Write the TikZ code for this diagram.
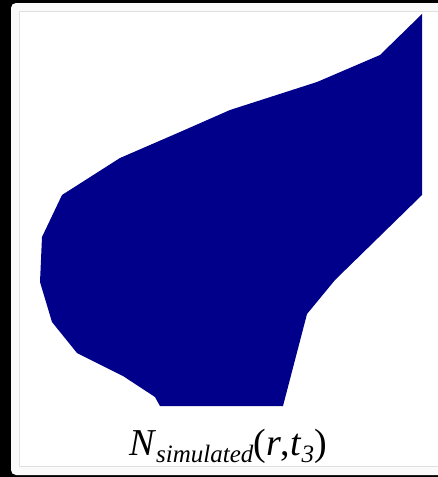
\documentclass[tikz,border=0pt]{standalone}
\usepackage{fontspec}
\setmainfont{Liberation Serif}
\definecolor{plotblue}{RGB}{0,0,139}
\newcommand{\subtxt}[1]{\raisebox{-7pt}{\fontsize{25}{25}\selectfont\textit{#1}}}
\begin{document}
\begin{tikzpicture}[x=1pt,y=-1pt]
\useasboundingbox (0,0) rectangle (438,477);
\fill[black] (0,0) rectangle (438,477);
\fill[black!2,rounded corners=5pt] (11,3) rectangle (460,475);
\fill[white] (19,11) rectangle (450,466);
\draw[black!12] (450,11) -- (19,11) -- (19,466) -- (450,466);
\fill[plotblue] (422,14) -- (422,195) -- (335,280) -- (307,314) -- (283,406) -- (160,406) -- (155,397)
  -- (123,376) -- (77,353) -- (52,322) -- (40,282) -- (42,237) -- (62,195) -- (120,158) -- (180,132)
  -- (230,110) -- (317,82) -- (380,55) -- cycle;
\node[anchor=base,inner sep=0pt,font=\fontsize{38}{40}\selectfont] (lbl) at (228,455)
  {\textit{N}\subtxt{simulated}(\textit{r},\textit{t}\subtxt{3})};
\end{tikzpicture}
\end{document}
